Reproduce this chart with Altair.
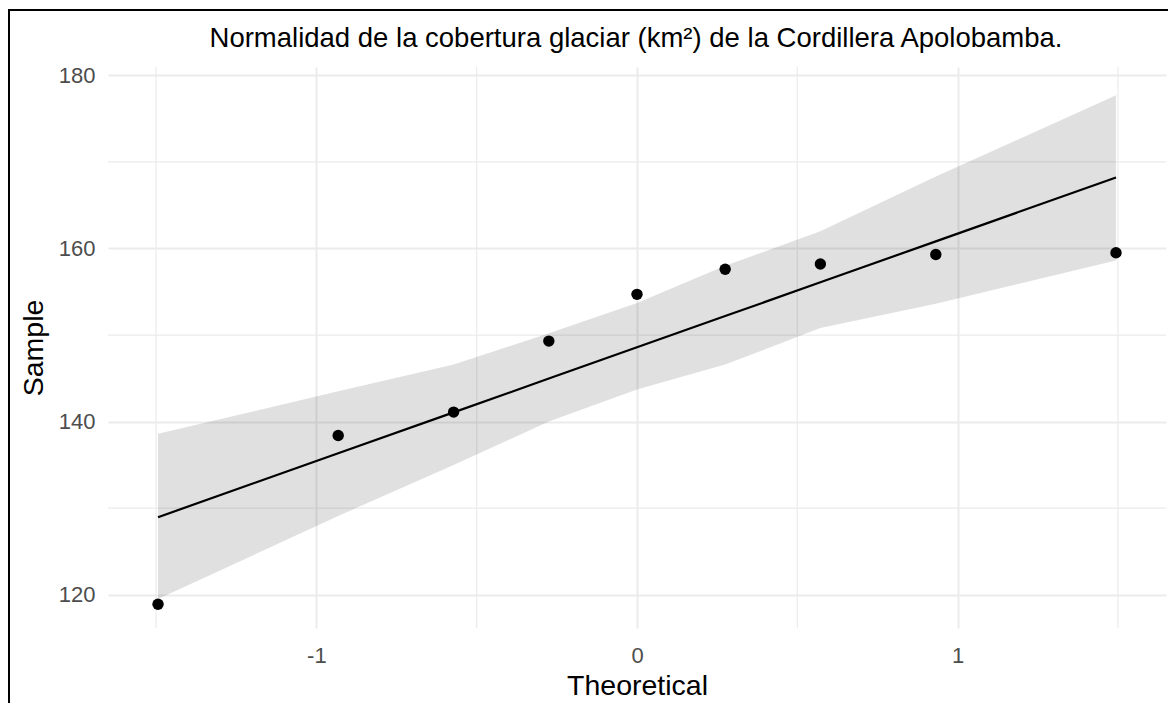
import altair as alt
import pandas as pd

# Theoretical normal quantiles (x) and observed glacier cover (km²)
theoretical = [-1.494, -0.932, -0.572, -0.275, 0.0, 0.275, 0.572, 0.932, 1.494]
sample = [118.9, 138.4, 141.1, 149.3, 154.7, 157.6, 158.2, 159.3, 159.5]
# Reference line and confidence band
line_fit = [128.96, 136.34, 141.07, 144.97, 148.58, 152.19, 156.09, 160.82, 168.20]
band_lower = [119.5, 129.1, 135.0, 140.0, 143.7, 146.6, 150.8, 153.6, 158.6]
band_upper = [138.6, 143.5, 146.6, 150.2, 153.7, 158.0, 162.0, 168.3, 177.7]

x_major = [-1, 0, 1]
x_minor = [-1.5, -0.5, 0.5, 1.5]
y_major = [120, 140, 160, 180]
y_minor = [130, 150, 170]

TITLE = "Normalidad de la cobertura glaciar (km²) de la Cordillera Apolobamba."

df = pd.DataFrame({
    "theoretical": theoretical,
    "sample": sample,
    "line": line_fit,
    "lower": band_lower,
    "upper": band_upper,
})

W, H = 1058, 561
xs = alt.Scale(domain=[-1.65, 1.65], nice=False, zero=False)
ys = alt.Scale(domain=[116.16, 180.96], nice=False, zero=False)

FONT = "Liberation Sans"
GRID = "#EBEBEB"

neg_label = "datum.value < 0 ? '-' + abs(datum.value) : '' + datum.value"

x_axis = alt.Axis(values=x_major, grid=True, gridColor=GRID, gridWidth=2,
                  domain=False, ticks=False, labelFontSize=22, labelColor="#4D4D4D",
                  labelPadding=17, labelExpr=neg_label, title="Theoretical",
                  titleFontSize=28.5, titleFontWeight="normal", titleColor="black",
                  titlePadding=5)
y_axis = alt.Axis(values=y_major, grid=True, gridColor=GRID, gridWidth=2,
                  domain=False, ticks=False, labelFontSize=22, labelColor="#4D4D4D",
                  labelPadding=13, title="Sample", titleFontSize=28.5,
                  titleFontWeight="normal", titleColor="black", titlePadding=10)

base = alt.Chart(df)
band = base.mark_area(color="black", opacity=0.12).encode(
    x=alt.X("theoretical:Q", scale=xs, axis=x_axis),
    y=alt.Y("lower:Q", scale=ys, axis=y_axis),
    y2="upper:Q",
)
minor_x = alt.Chart(pd.DataFrame({"theoretical": x_minor})).mark_rule(
    color=GRID, strokeWidth=1.2).encode(
    x=alt.X("theoretical:Q", scale=xs, axis=x_axis))
minor_y = alt.Chart(pd.DataFrame({"lower": y_minor})).mark_rule(
    color=GRID, strokeWidth=1.2).encode(
    y=alt.Y("lower:Q", scale=ys, axis=y_axis))
line = base.mark_line(color="black", strokeWidth=2.2).encode(
    x=alt.X("theoretical:Q", scale=xs, axis=x_axis),
    y=alt.Y("line:Q", scale=ys, axis=y_axis),
)
points = base.mark_circle(color="black", opacity=1, size=130).encode(
    x=alt.X("theoretical:Q", scale=xs, axis=x_axis),
    y=alt.Y("sample:Q", scale=ys, axis=y_axis),
)

one = pd.DataFrame({"k": [0]})
title_mark = alt.Chart(one).mark_text(
    text=TITLE, fontSize=27.5, color="black", align="center", baseline="alphabetic",
    font=FONT).encode(x=alt.value(W / 2 - 1), y=alt.value(-20.5))
border_top = alt.Chart(one).mark_rule(color="black", strokeWidth=2).encode(
    x=alt.value(-100), x2=alt.value(W + 20), y=alt.value(-57))
border_left = alt.Chart(one).mark_rule(color="black", strokeWidth=2).encode(
    x=alt.value(-99), y=alt.value(-58), y2=alt.value(H + 80))

chart = alt.layer(minor_x, minor_y, band, line, points, title_mark, border_top,
                  border_left).properties(
    width=W,
    height=H,
    padding={"left": 100, "top": 59, "right": 2, "bottom": 75},
    autosize=alt.AutoSizeParams(type="none"),
).configure(font=FONT, background="white").configure_view(stroke=None)

chart.save("out.html", embed_options={"renderer": "svg", "actions": False})
